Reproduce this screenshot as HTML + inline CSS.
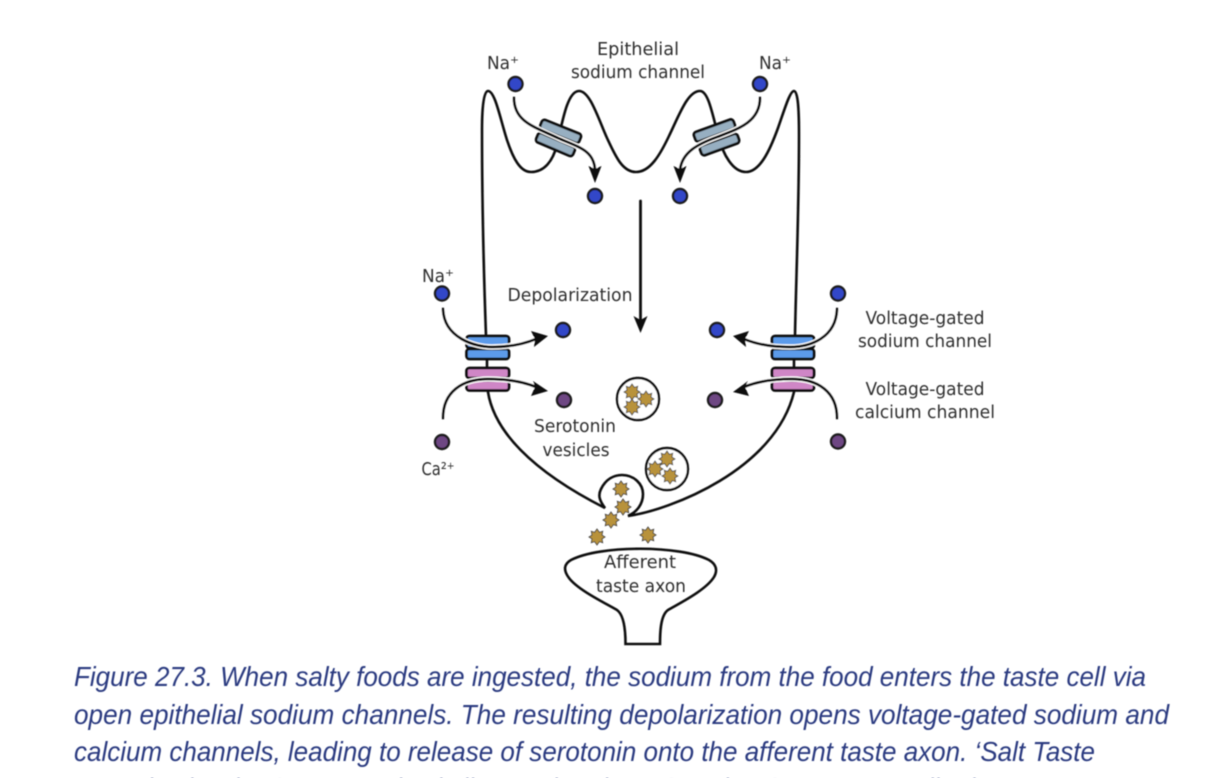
<!DOCTYPE html>
<html lang="en"><head><meta charset="utf-8"><title>Salt taste transduction</title>
<style>
html,body{margin:0;padding:0;background:#fff;width:1224px;height:778px;overflow:hidden}
svg{display:block}
.l{font-family:"DejaVu Sans",sans-serif;font-size:17.5px;fill:#2e2e2e;text-anchor:middle}
.c{font-family:"Liberation Sans",sans-serif;font-style:italic;font-size:27.5px;fill:#2c3a80}
.m{fill:none;stroke:#111;stroke-width:2.6;stroke-linecap:round}
.h{fill:none;stroke:#fff;stroke-width:5.4}
.a{fill:none;stroke:#111;stroke-width:2.8;stroke-linecap:round}
.na{fill:#3346c8;stroke:#1a1a1a;stroke-width:2.4}
.ca{fill:#6e4683;stroke:#1a1a1a;stroke-width:2.4}
.ch{stroke:#111;stroke-width:2.8}
</style></head><body>
<svg width="1224" height="778" viewBox="0 0 1224 778" xmlns="http://www.w3.org/2000/svg">
<defs>
<filter id="b" x="-5%" y="-5%" width="110%" height="110%"><feGaussianBlur stdDeviation="0.5"/></filter>
<polygon id="s" points="0,-8 2.4,-4.6 5.7,-5.7 5,-1.9 8,0 5,1.9 5.7,5.7 2.4,4.6 0,8 -2.4,4.6 -5.7,5.7 -5,1.9 -8,0 -5,-1.9 -5.7,-5.7 -2.4,-4.6" fill="#b8923a" stroke="#444" stroke-width="0.9"/>
</defs>
<g filter="url(#b)">
<!-- membrane -->
<path class="m" d="M486,336 C484,280 482,200 482,130 C482,105 484,91 488,91 C495,91 500,118 507,140 C513,158 520,172 531,172 C545,172 553,160 557,145 C563,118 568,91 579,91 C590,91 598,118 607,138 C615,155 622,172 636,172 C650,172 660,155 669,136 C680,113 688,91 700,91 C708,91 712,112 718,135 C723,155 733,172 746,172 C760,172 770,150 778,128 C785,108 790,91 794,91 C798,91 799,110 799,135 C799,210 796,280 795,336"/>
<path class="m" d="M488,392 C494,430 530,470 605,508 C599,500 598,495 601,489 C606,479 614,475 622,475 C634,475 643,484 643,494 C643,504 637,512 628,516 C670,510 775,470 794,392"/>
<!-- epithelial channels -->
<g class="ch">
<rect x="-21" y="-5" width="42" height="10" rx="3" fill="#97afc1" transform="translate(560.5,131.5) rotate(22)"/>
<rect x="-20" y="-5" width="40" height="10" rx="3" fill="#97afc1" transform="translate(555.5,144.5) rotate(23)"/>
<rect x="-21" y="-5" width="42" height="10" rx="3" fill="#97afc1" transform="translate(714.5,130.5) rotate(-20)"/>
<rect x="-20" y="-5" width="40" height="10" rx="3" fill="#97afc1" transform="translate(719.5,144.5) rotate(-20)"/>
</g>
<!-- voltage channels -->
<g class="ch">
<path class="m" d="M487,358 V369 M794,358 V369"/>
<rect x="466.500" y="336" width="42.500" height="12" rx="3" fill="#5b9bea"/>
<rect x="466.500" y="349" width="42.500" height="10" rx="3" fill="#5b9bea"/>
<rect x="466.500" y="368" width="42.500" height="10" rx="3" fill="#cf86c6"/>
<rect x="466.500" y="380.500" width="42.500" height="10" rx="3" fill="#cf86c6"/>
<rect x="772" y="336" width="42" height="12" rx="3" fill="#5b9bea"/>
<rect x="772" y="349" width="42" height="10" rx="3" fill="#5b9bea"/>
<rect x="772" y="368" width="42" height="10" rx="3" fill="#cf86c6"/>
<rect x="772" y="380.500" width="42" height="10" rx="3" fill="#cf86c6"/>
</g>
<!-- halos and arrows -->
<path class="h" d="M514,98 C514,122 535,127 558,138 C578,147 594,150 595,170"/>
<path class="a" d="M514,98 C514,122 535,127 558,138 C578,147 594,150 595,170"/>
<polygon points="595,183 588.500,166 595,169 601.500,166" fill="#111"/>
<path class="h" d="M760,98 C760,122 738,129 717,137 C698,144 682,152 680,170"/>
<path class="a" d="M760,98 C760,122 738,129 717,137 C698,144 682,152 680,170"/>
<polygon points="680,183 673.500,166 680,169 686.500,166" fill="#111"/>
<path class="a" d="M640.500,201 V320"/>
<polygon points="640.500,333 633.500,316 640.500,320 647.500,316" fill="#111"/>
<path class="h" d="M443,309 C444,338 475,347 492,347 C510,347 524,344 536,339"/>
<path class="a" d="M443,309 C444,338 475,347 492,347 C510,347 524,344 536,339"/>
<polygon points="548,336 531,331 535,339 534,347" fill="#111"/>
<path class="h" d="M443,418 C443,392 462,379 488,379 C508,379 524,382 536,387"/>
<path class="a" d="M443,418 C443,392 462,379 488,379 C508,379 524,382 536,387"/>
<polygon points="548,391 533,381 535,387 531,396" fill="#111"/>
<path class="h" d="M837,309 C836,338 810,347 790,347 C770,347 756,344 744,339"/>
<path class="a" d="M837,309 C836,338 810,347 790,347 C770,347 756,344 744,339"/>
<polygon points="733,336 749,331 745,339 746,347" fill="#111"/>
<path class="h" d="M837,418 C837,392 818,379 792,379 C772,379 756,382 744,387"/>
<path class="a" d="M837,418 C837,392 818,379 792,379 C772,379 756,382 744,387"/>
<polygon points="733,392 748,381 745,387 749,396" fill="#111"/>
<!-- ions -->
<circle class="na" cx="515.500" cy="84" r="7"/><circle class="na" cx="760" cy="84" r="7"/>
<circle class="na" cx="595" cy="196" r="7"/><circle class="na" cx="680" cy="196" r="7"/>
<circle class="na" cx="442" cy="293.500" r="7"/><circle class="na" cx="563" cy="330" r="7"/>
<circle class="na" cx="838" cy="293.500" r="7"/><circle class="na" cx="717" cy="330" r="7"/>
<circle class="ca" cx="564" cy="400" r="7"/><circle class="ca" cx="442" cy="442" r="7"/>
<circle class="ca" cx="715" cy="400" r="7"/><circle class="ca" cx="838" cy="441.500" r="7"/>
<!-- vesicles -->
<circle cx="638" cy="399" r="21" fill="#fff" stroke="#111" stroke-width="2.4"/>
<circle cx="667" cy="469" r="21" fill="#fff" stroke="#111" stroke-width="2.4"/>
<use href="#s" x="632" y="392"/><use href="#s" x="646" y="399"/><use href="#s" x="632" y="407"/>
<use href="#s" x="667" y="459"/><use href="#s" x="655" y="469"/><use href="#s" x="670" y="476"/>
<use href="#s" x="621" y="489"/><use href="#s" x="623" y="507"/><use href="#s" x="611" y="520"/>
<use href="#s" x="597" y="537"/><use href="#s" x="648" y="535"/>
<!-- axon -->
<path class="m" d="M571,560 C600,545 680,545 709,560 C716,564 718,570 714,577 C706,590 680,603 668,610 C661,615 660,630 660,644 H625.500 C625.500,630 624,615 617,610 C605,603 578,590 569,578 C563,570 564,564 571,560 Z"/>
<!-- labels -->
<text class="l" x="638" y="55" textLength="82" lengthAdjust="spacingAndGlyphs">Epithelial</text>
<text class="l" x="638" y="78" textLength="134" lengthAdjust="spacingAndGlyphs">sodium channel</text>
<text class="l" x="503" y="69" textLength="32" lengthAdjust="spacingAndGlyphs">Na⁺</text>
<text class="l" x="775" y="69" textLength="32" lengthAdjust="spacingAndGlyphs">Na⁺</text>
<text class="l" x="438" y="282" textLength="32" lengthAdjust="spacingAndGlyphs">Na⁺</text>
<text class="l" x="438" y="475" textLength="33" lengthAdjust="spacingAndGlyphs">Ca²⁺</text>
<text class="l" x="570" y="301" textLength="125" lengthAdjust="spacingAndGlyphs">Depolarization</text>
<text class="l" x="575" y="432" textLength="82" lengthAdjust="spacingAndGlyphs">Serotonin</text>
<text class="l" x="576" y="456" textLength="67" lengthAdjust="spacingAndGlyphs">vesicles</text>
<text class="l" x="925" y="324" textLength="119" lengthAdjust="spacingAndGlyphs">Voltage-gated</text>
<text class="l" x="925" y="347" textLength="134" lengthAdjust="spacingAndGlyphs">sodium channel</text>
<text class="l" x="925" y="395" textLength="119" lengthAdjust="spacingAndGlyphs">Voltage-gated</text>
<text class="l" x="925" y="418" textLength="140" lengthAdjust="spacingAndGlyphs">calcium channel</text>
<text class="l" x="640" y="568" textLength="72" lengthAdjust="spacingAndGlyphs">Afferent</text>
<text class="l" x="641" y="592" textLength="90" lengthAdjust="spacingAndGlyphs">taste axon</text>
<!-- caption -->
<text class="c" x="74" y="686" textLength="1072" lengthAdjust="spacingAndGlyphs">Figure 27.3. When salty foods are ingested, the sodium from the food enters the taste cell via</text>
<text class="c" x="74" y="724" textLength="1095" lengthAdjust="spacingAndGlyphs">open epithelial sodium channels. The resulting depolarization opens voltage-gated sodium and</text>
<text class="c" x="74" y="761" textLength="1021" lengthAdjust="spacingAndGlyphs">calcium channels, leading to release of serotonin onto the afferent taste axon. ‘Salt Taste</text>
<text class="c" x="74" y="798" textLength="930" lengthAdjust="spacingAndGlyphs">Transduction’ by Casey Henley is licensed under a Creative Commons Attribution</text>
</g>
</svg>
</body></html>
